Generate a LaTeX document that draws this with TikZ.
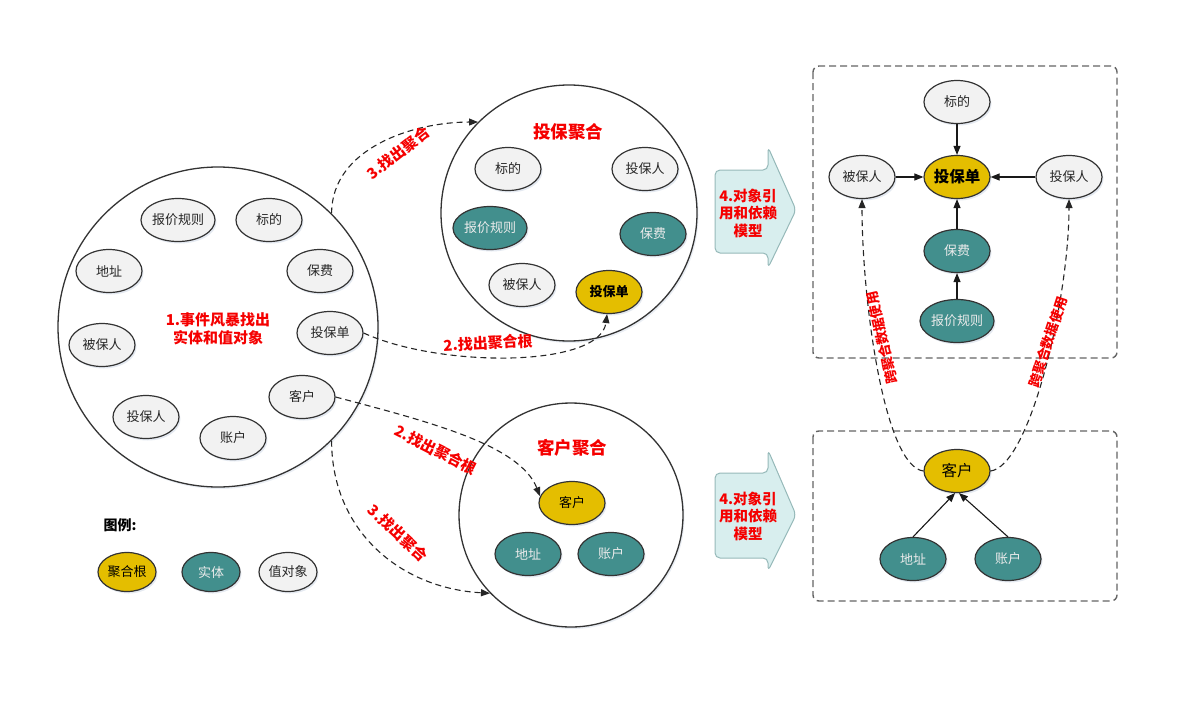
\documentclass[tikz,border=0pt]{standalone}
\usepackage{fontspec}
\setmainfont{Noto Sans CJK SC}
\usetikzlibrary{shapes.geometric,arrows.meta,shadows}
\definecolor{goldc}{RGB}{228,190,0}
\definecolor{tealc}{RGB}{66,143,141}
\definecolor{lightg}{RGB}{242,242,242}
\definecolor{bd}{RGB}{51,51,51}
\definecolor{arrfill}{RGB}{216,238,238}
\definecolor{arrbd}{RGB}{150,185,185}
\definecolor{boxbd}{RGB}{100,100,100}
\definecolor{lblred}{RGB}{245,0,0}
\definecolor{shcol}{RGB}{150,170,200}
\newcommand\fsz[2]{\fontsize{#1}{#2}\selectfont}
\begin{document}
\begin{tikzpicture}[x=1pt,y=-1pt,
  ell/.style={ellipse, draw=bd, line width=1.2pt, minimum width=66pt, minimum height=43pt,
    inner sep=0pt, font=\fsz{13}{15},
    drop shadow={shadow xshift=1.5pt, shadow yshift=-2pt, opacity=0.25, fill=shcol}},
  val/.style={ell, fill=lightg, text=black!85},
  ent/.style={ell, fill=tealc, text=white!92!black},
  root/.style={ell, fill=goldc, text=black},
  wide/.style={minimum width=74pt},
  legend/.style={minimum width=58pt, minimum height=39pt},
  bigc/.style={circle, draw=bd, line width=1.3pt, fill=white, inner sep=0pt,
    drop shadow={shadow xshift=1.5pt, shadow yshift=-2pt, opacity=0.2, fill=shcol}},
  redlbl/.style={text=lblred, font=\bfseries\fsz{15}{18}},
  titlelbl/.style={text=lblred, font=\bfseries\fsz{17.5}{20}},
  xlbl/.style={text=lblred, font=\bfseries\fsz{13.5}{16}},
  arrtxt/.style={text=lblred, font=\bfseries\fsz{14.5}{17.5}, align=center},
  dsh/.style={draw=black!85, line width=1.1pt, dash pattern=on 6pt off 4pt,
    -{Triangle[length=9pt,width=7pt]}},
  sol/.style={draw=black!90, line width=1.1pt, -{Triangle[length=9pt,width=7pt]}},
  dbox/.style={draw=boxbd, line width=1.4pt, dash pattern=on 7pt off 4pt, rounded corners=6pt, fill=white},
  bigarrow/.style={draw=arrbd, line width=1pt, fill=arrfill, rounded corners=5pt}
]
\useasboundingbox (0,0) rectangle (1190,704);

% big circles
\node[bigc, minimum size=320pt] (L) at (218,327) {};
\node[bigc, minimum size=256pt] (T) at (569,213) {};
\node[bigc, minimum size=224pt] (B) at (571,515) {};

% left circle contents
\node[val, wide] (Lbj) at (178,220) {报价规则};
\node[val] (Lbd) at (269,220) {标的};
\node[val] (Ldz) at (109,271) {地址};
\node[val] (Lbf) at (320,271) {保费};
\node[val] (Lbb) at (102,345) {被保人};
\node[val] (Ltbd) at (330,333) {投保单};
\node[val] (Lkh) at (302,397) {客户};
\node[val] (Ltbr) at (146,417) {投保人};
\node[val] (Lzh) at (233,438) {账户};
\node[redlbl, align=center] (Lt) at (218,329) {1.事件风暴找出\\实体和值对象};

% top aggregate
\node[titlelbl] (Tt) at (568,132) {投保聚合};
\node[val] (Tbd) at (508,169) {标的};
\node[val] (Ttbr) at (645,169) {投保人};
\node[ent, wide] (Tbj) at (490,228) {报价规则};
\node[ent] (Tbf) at (653,234) {保费};
\node[val] (Tbb) at (522,285) {被保人};
\node[root, font=\bfseries\fsz{13}{15}] (Ttbd) at (609,292) {投保单};

% bottom aggregate
\node[titlelbl] (Bt) at (572,448) {客户聚合};
\node[root] (Bkh) at (572,503) {客户};
\node[ent] (Bdz) at (528,554) {地址};
\node[ent] (Bzh) at (611,554) {账户};

% big arrows
\draw[bigarrow] (715,170) -- (768,170) -- (768,147) -- (796,210) -- (768,268) -- (768,253) -- (715,253) -- cycle;
\node[arrtxt] (A1) at (748,213) {4.对象引\\用和依赖\\模型};
\draw[bigarrow] (715,473) -- (768,473) -- (768,450) -- (796,515) -- (768,571) -- (768,558) -- (715,558) -- cycle;
\node[arrtxt] (A2) at (748,516) {4.对象引\\用和依赖\\模型};

% right boxes
\draw[dbox] (813,66) rectangle (1117,358);
\draw[dbox] (813,431) rectangle (1117,601);

\node[val] (Rbd) at (957,102) {标的};
\node[root, font=\bfseries\fsz{15.5}{18}] (Rtbd) at (957,177) {投保单};
\node[val] (Rbb) at (862,177) {被保人};
\node[val] (Rtbr) at (1069,177) {投保人};
\node[ent] (Rbf) at (957,251) {保费};
\node[ent, wide] (Rbj) at (957,321) {报价规则};

\node[root, font=\fsz{15.5}{18}] (Rkh) at (957,471) {客户};
\node[ent] (Rdz) at (913,559) {地址};
\node[ent] (Rzh) at (1008,559) {账户};

\draw[sol] (Rbd) -- (Rtbd);
\draw[sol] (Rbb) -- (Rtbd);
\draw[sol] (Rtbr) -- (Rtbd);
\draw[sol] (Rbf) -- (Rtbd);
\draw[sol] (Rbj) -- (Rbf);
\draw[sol] (Rdz.north) -- (Rkh.265);
\draw[sol] (Rzh.north) -- (Rkh.275);

% dashed connectors
\draw[dsh] (L.45) .. controls +(0,-65) and +(-65,0) .. (T.135);
\node[redlbl, rotate=38] (l3a) at (398,153) {3.找出聚合};
\draw[dsh] (Ltbd.east) .. controls (440,368) and (600,368) .. (Ttbd.265);
\node[redlbl, rotate=3] (l2a) at (488,343) {2.找出聚合根};
\draw[dsh] (Lkh.east) .. controls (430,422) and (520,445) .. (Bkh.168);
\node[redlbl, rotate=-27] (l2b) at (436,450) {2.找出聚合根};
\draw[dsh] (L.-45) .. controls +(0,90) and +(-90,-5) .. (B.-136);
\node[redlbl, rotate=-43] (l3b) at (398,533) {3.找出聚合};

\draw[dsh] (Rkh.west) .. controls (884,466) and (862,299) .. (Rbb.south);
\draw[dsh] (Rkh.east) .. controls (1030,466) and (1069,299) .. (Rtbr.south);
\node[xlbl, rotate=103] (x1) at (882,338) {跨聚合数据使用};
\node[xlbl, rotate=72] (x2) at (1048,342) {跨聚合数据使用};

% legend
\node[font=\bfseries\fsz{14}{16}] (lg) at (120,525) {图例:};
\node[root, legend] (lg1) at (127,572) {聚合根};
\node[ent, legend] (lg2) at (211,572) {实体};
\node[val, legend] (lg3) at (288,572) {值对象};
\end{tikzpicture}
\end{document}
